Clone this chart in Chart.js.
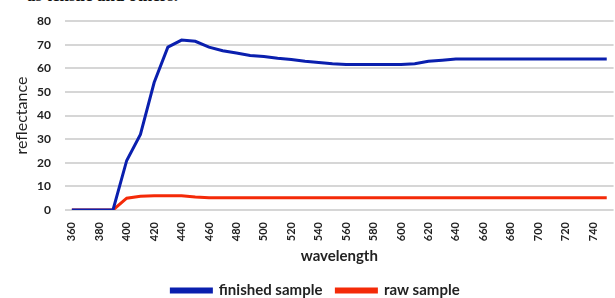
<!DOCTYPE html>
<html>
<head>
<meta charset="utf-8">
<script src="https://cdn.jsdelivr.net/npm/chart.js@4.4.0/dist/chart.umd.min.js"></script>
<style>
  html, body { margin: 0; padding: 0; background: #fff; overflow: hidden; width: 615px; height: 298px; }
  #wrap { position: absolute; left: 0; top: 0; width: 624px; height: 308px; }
  #cut { position: absolute; left: 27px; top: -14px; font: bold 17px "Liberation Serif", serif; color: #111; white-space: nowrap; }
</style>
</head>
<body>
<div id="cut">as tensile and others.</div>
<div id="wrap"><canvas id="reflectanceChart"></canvas></div>
<script>
// wavelength categories (nm), one point every 10 nm
const wavelengths = [360, 370, 380, 390, 400, 410, 420, 430, 440, 450,
    460, 470, 480, 490, 500, 510, 520, 530, 540, 550,
    560, 570, 580, 590, 600, 610, 620, 630, 640, 650,
    660, 670, 680, 690, 700, 710, 720, 730, 740, 750];

const finishedSample = [0, 0, 0, 0, 21, 32, 54, 69, 72, 71.5,
    69, 67.5, 66.5, 65.5, 65, 64.3, 63.8, 63, 62.5, 62,
    61.7, 61.7, 61.7, 61.7, 61.7, 62, 63, 63.5, 64, 64,
    64, 64, 64, 64, 64, 64, 64, 64, 64, 64];

const rawSample = [0, 0, 0, 0, 5, 5.8, 6, 6, 6, 5.5,
    5.2, 5.2, 5.2, 5.2, 5.2, 5.2, 5.2, 5.2, 5.2, 5.2,
    5.2, 5.2, 5.2, 5.2, 5.2, 5.2, 5.2, 5.2, 5.2, 5.2,
    5.2, 5.2, 5.2, 5.2, 5.2, 5.2, 5.2, 5.2, 5.2, 5.2];

const yTicks = [0, 10, 20, 30, 40, 50, 60, 70, 80];

new Chart(document.getElementById("reflectanceChart"), {
    type: "line",
    data: {
        labels: wavelengths,
        datasets: [
            {
                label: "finished sample",
                data: finishedSample,
                borderColor: "#0a1fae",
                backgroundColor: "#0a1fae",
                borderWidth: 3,
                pointRadius: 0,
                tension: 0,
            },
            {
                label: "raw sample",
                data: rawSample,
                borderColor: "#f42a08",
                backgroundColor: "#f42a08",
                borderWidth: 3,
                pointRadius: 0,
                tension: 0,
            },
        ],
    },
    options: {
        responsive: true,
        maintainAspectRatio: false,
        animation: false,
        layout: { padding: { top: 17, right: 5, bottom: 0, left: 12 } },
        plugins: {
            tooltip: { enabled: false },
            legend: {
                position: "bottom",
                labels: {
                    boxWidth: 40,
                    boxHeight: 3,
                    padding: 14,
                    color: "#222",
                    font: { family: "Lato", size: 15, weight: "bold" },
                },
            },
        },
        scales: {
            x: {
                offset: true,
                grid: { display: false },
                border: { display: false },
                afterFit: (axis) => {
                    axis.height = 59;
                },
                ticks: {
                    autoSkip: false,
                    maxRotation: 90,
                    minRotation: 90,
                    padding: 4,
                    color: "#222",
                    font: { family: "Lato", size: 11, weight: "bold" },
                    callback: function (value, index) {
                        return index % 2 === 0 ? wavelengths[index] : "";
                    },
                },
                title: {
                    display: true,
                    text: "wavelength",
                    color: "#222",
                    font: { family: "Lato", size: 15, weight: "bold" },
                    padding: { top: 0, bottom: 4 },
                },
            },
            y: {
                min: 0,
                max: 80,
                afterBuildTicks: (axis) => {
                    axis.ticks = yTicks.map((v) => ({ value: v }));
                },
                afterFit: (axis) => {
                    axis.width = 53;
                },
                grid: { color: "#d6d6d6", lineWidth: 2, drawTicks: false },
                border: { display: false },
                ticks: {
                    padding: 14,
                    color: "#222",
                    font: { family: "Lato", size: 12, weight: "bold" },
                },
                title: {
                    display: true,
                    text: "reflectance",
                    color: "#222",
                    font: { family: "Lato", size: 16 },
                    padding: { top: 0, bottom: 0 },
                },
            },
        },
    },
});
</script>
</body>
</html>
